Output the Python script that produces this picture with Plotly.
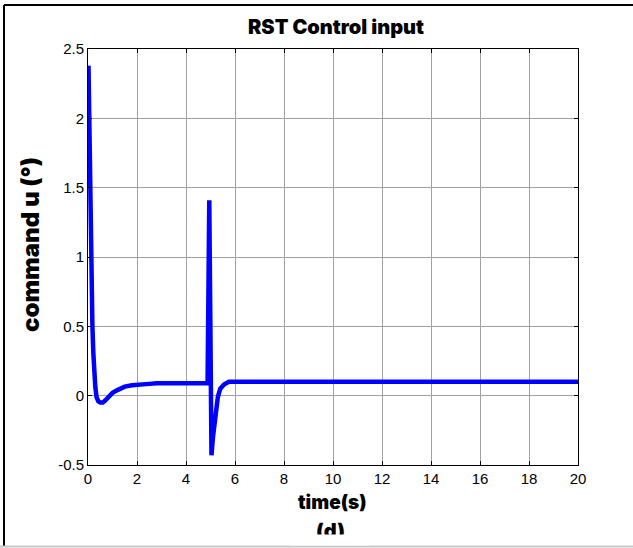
import plotly.graph_objects as go

# data
t = [0.02, 0.05, 0.08, 0.11, 0.15, 0.18, 0.22, 0.25, 0.3, 0.35, 0.42, 0.5, 0.6,
     0.7, 0.8, 0.9, 1.0, 1.2, 1.5, 1.8, 2.0, 2.5, 2.8, 3.0, 4.0, 4.88,
     4.95, 5.04, 5.1, 5.2, 5.3, 5.4, 5.55, 5.75, 6.0, 8.0, 10.0, 12.0, 14.0,
     16.0, 18.0, 20.0]
u = [2.38, 1.9, 1.4, 1.0, 0.7, 0.5, 0.3, 0.17, 0.06, -0.01, -0.04, -0.05, -0.05,
     -0.035, -0.015, 0.005, 0.02, 0.04, 0.065, 0.075, 0.08, 0.085, 0.09, 0.09, 0.09, 0.09,
     1.41, -0.43, -0.3, -0.12, -0.01, 0.05, 0.08, 0.1, 0.1, 0.1, 0.1, 0.1, 0.1,
     0.1, 0.1, 0.1]

x_ticks = [0, 2, 4, 6, 8, 10, 12, 14, 16, 18, 20]
y_ticks = [-0.5, 0, 0.5, 1, 1.5, 2, 2.5]
y_tick_text = ["-0.5", "0", "0.5", "1", "1.5", "2", "2.5"]

W, H = 633, 548
L, R, T, B = 88, 55, 49, 83
pw, ph = W - L - R, H - T - B

def px(xp):
    return (xp - L) / pw

def py(yp):
    return (H - B - yp) / ph

fig = go.Figure()
fig.add_trace(go.Scatter(x=t, y=u, mode="lines",
                         line=dict(color="#0000ff", width=4.5),
                         showlegend=False, hoverinfo="skip"))

axis_common = dict(showline=True, linecolor="black", linewidth=1, mirror="allticks",
                   ticks="inside", ticklen=4, tickcolor="black",
                   showgrid=True, gridcolor="#a0a0a0", gridwidth=1,
                   zeroline=False,
                   tickfont=dict(family="Liberation Sans, Arial", size=15, color="black"))

fig.update_xaxes(range=[0, 20], tickvals=x_ticks, **axis_common)
fig.update_yaxes(range=[-0.5, 2.5], tickvals=y_ticks, ticktext=y_tick_text, **axis_common)

heavy = "Inter, Noto Sans, DejaVu Sans"

fig.update_layout(
    width=W, height=H,
    margin=dict(l=L, r=R, t=T, b=B),
    paper_bgcolor="white", plot_bgcolor="white",
    annotations=[
        dict(text="RST Control input", x=px(336), y=py(27), xref="paper", yref="paper",
             showarrow=False, font=dict(family=heavy, size=20, color="black", weight=900),
             xanchor="center", yanchor="middle"),
        dict(text="time(s)", x=px(332), y=py(502), xref="paper", yref="paper",
             showarrow=False, font=dict(family=heavy, size=19, color="black", weight=900),
             xanchor="center", yanchor="middle"),
        dict(text="(d)", x=px(330), y=py(517), xref="paper", yref="paper",
             showarrow=False, font=dict(family=heavy, size=20, color="black", weight=900),
             xanchor="center", yanchor="top"),
        dict(text=" ", x=px(330), y=py(533.5), xref="paper", yref="paper",
             showarrow=False, width=80, height=10, bgcolor="white", borderpad=0,
             font=dict(size=6), xanchor="center", yanchor="top"),
        dict(text="command u (°)", x=px(30), y=py(245), xref="paper", yref="paper",
             showarrow=False, font=dict(family=heavy, size=24, color="black", weight=900),
             textangle=-90, xanchor="center", yanchor="middle"),
    ],
    shapes=[
        dict(type="line", xref="paper", yref="paper", x0=px(4), x1=px(633), y0=py(5), y1=py(5),
             line=dict(color="black", width=2)),
        dict(type="line", xref="paper", yref="paper", x0=px(4), x1=px(4), y0=py(5), y1=py(546),
             line=dict(color="black", width=2)),
        dict(type="line", xref="paper", yref="paper", x0=px(0), x1=px(633), y0=py(546.5), y1=py(546.5),
             line=dict(color="#c8c8c8", width=2)),
    ],
)

fig.write_html("out.html")
